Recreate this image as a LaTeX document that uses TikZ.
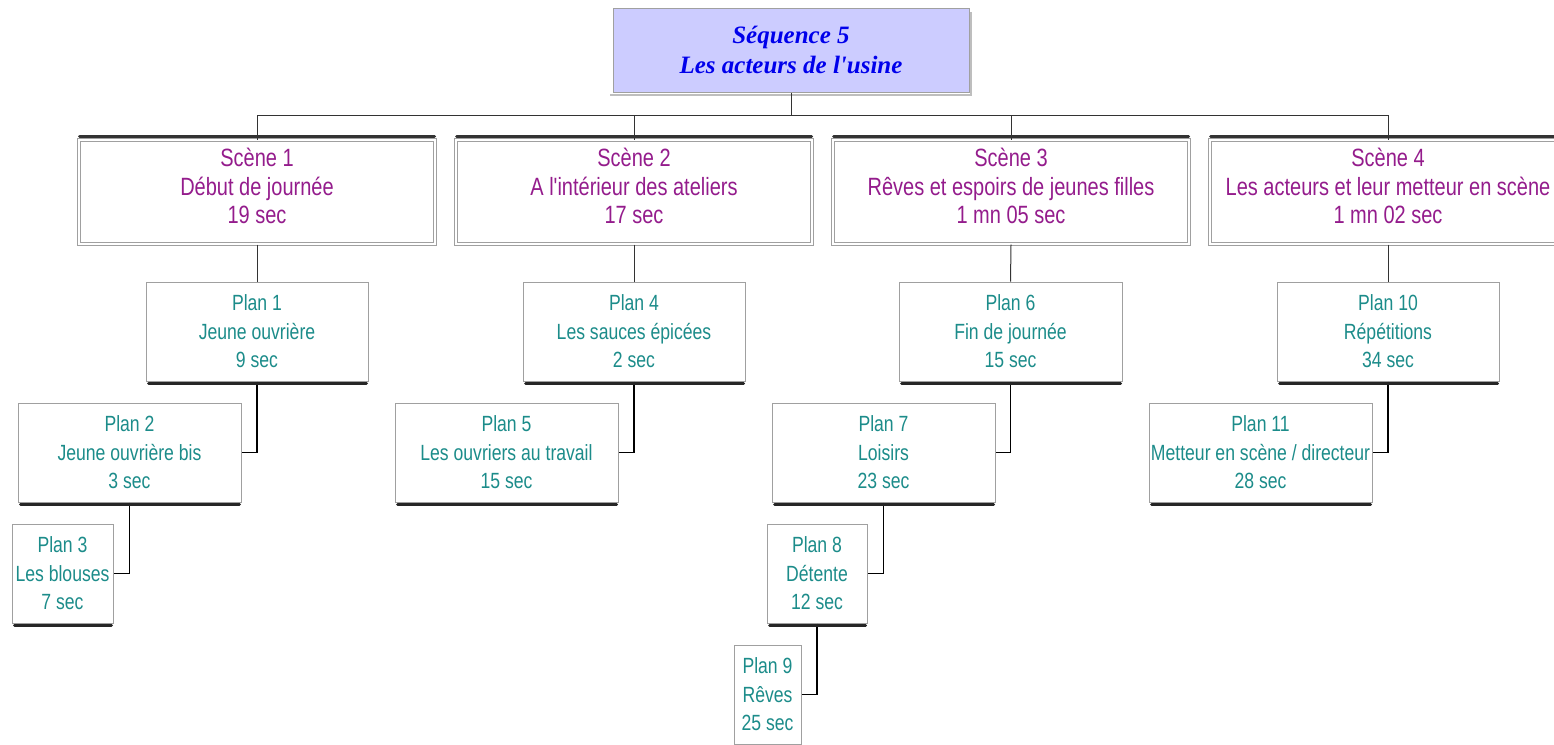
\documentclass[tikz,border=0pt]{standalone}
\usepackage{fontspec}
\newfontfamily\narrowfont{Liberation Sans}[FakeStretch=0.8]
\newfontfamily\titlefont{Liberation Serif}
\definecolor{scenecol}{RGB}{148,28,140}
\definecolor{plancol}{RGB}{28,140,138}
\definecolor{titlecol}{RGB}{0,0,235}
\definecolor{titlefill}{RGB}{204,204,255}
\definecolor{boxgray}{RGB}{160,160,160}
\definecolor{shadegray}{RGB}{190,190,190}
\begin{document}
\begin{tikzpicture}[x=1pt,y=-1pt,
  topbox/.style={draw=boxgray,line width=1pt,fill=titlefill,minimum width=356pt,minimum height=84pt,inner sep=0pt,
    align=center,text=titlecol,font=\titlefont\bfseries\itshape\fontsize{25}{30}\selectfont},
  scenebox/.style={draw=boxgray,line width=1pt,double=white,double distance=2.5pt,minimum width=356pt,minimum height=104pt,inner sep=0pt},
  scenetxt/.style={align=center,text=scenecol,inner sep=0pt,font=\narrowfont\fontsize{25}{28.5}\selectfont},
  planbox/.style={draw=boxgray,line width=1pt,fill=white,minimum height=99pt,inner sep=0pt,align=center,text=plancol,
    font=\narrowfont\fontsize{22}{28.5}\selectfont},
  busline/.style={draw=black!80,line width=1pt},
  planline/.style={draw=black,line width=1.4pt},
  scenebar/.style={draw=black!80,line width=3pt,line cap=round},
  planshadow/.style={draw=black!85,line width=3pt,line cap=round},
  topshadow/.style={draw=shadegray,line width=1.5pt}
]
\useasboundingbox (0,0) rectangle (1554,744);
\clip (0,0) rectangle (1554,744);

% title
\node[topbox] (top) at (791,50) {Séquence 5\\Les acteurs de l'usine};
\coordinate (shA) at (610,95);
\coordinate (shB) at (971,95);
\coordinate (shC) at (971,12);
\draw[topshadow] (shA) -- (shB) -- (shC);

% scenes
\node[scenebox] (s1) at (257,192) {};
\node[scenebox] (s2) at (634,192) {};
\node[scenebox] (s3) at (1011,192) {};
\node[scenebox] (s4) at (1388,192) {};
\node[scenetxt] (t1) at (257,186) {Scène 1\\Début de journée\\19 sec};
\node[scenetxt] (t2) at (634,186) {Scène 2\\A l'intérieur des ateliers\\17 sec};
\node[scenetxt] (t3) at (1011,186) {Scène 3\\Rêves et espoirs de jeunes filles\\1 mn 05 sec};
\node[scenetxt] (t4) at (1388,186) {Scène 4\\Les acteurs et leur metteur en scène\\1 mn 02 sec};

% plans
\node[planbox,minimum width=222pt] (p1) at (257,331.5) {Plan 1\\Jeune ouvrière\\9 sec};
\node[planbox,minimum width=223pt] (p2) at (129.5,452.5) {Plan 2\\Jeune ouvrière bis\\3 sec};
\node[planbox,minimum width=101pt] (p3) at (62.5,573.5) {Plan 3\\Les blouses\\7 sec};
\node[planbox,minimum width=222pt] (p4) at (634,331.5) {Plan 4\\Les sauces épicées\\2 sec};
\node[planbox,minimum width=223pt] (p5) at (506.5,452.5) {Plan 5\\Les ouvriers au travail\\15 sec};
\node[planbox,minimum width=223pt] (p6) at (1010.5,331.5) {Plan 6\\Fin de journée\\15 sec};
\node[planbox,minimum width=223pt] (p7) at (883.5,452.5) {Plan 7\\Loisirs\\23 sec};
\node[planbox,minimum width=100pt] (p8) at (817,573.5) {Plan 8\\Détente\\12 sec};
\node[planbox,minimum width=67pt] (p9) at (767.5,694.5) {Plan 9\\Rêves\\25 sec};
\node[planbox,minimum width=222pt] (p10) at (1388,331.5) {Plan 10\\Répétitions\\34 sec};
\node[planbox,minimum width=223pt] (p11) at (1260.5,452.5) {Plan 11\\Metteur en scène / directeur\\28 sec};

% connectors: title to scenes
\coordinate (bus) at (791,115);
\draw[busline] (top.south) -- (bus);
\foreach \s in {s1,s2,s3,s4} \draw[busline] (bus) -| (\s.north);
% scene bars
\foreach \s in {s1,s2,s3,s4}
  \draw[scenebar] ([xshift=1pt,yshift=3.5pt]\s.north west) -- ([xshift=-1pt,yshift=3.5pt]\s.north east);
% scenes to plans
\draw[busline] (s1.south) -- (p1.north);
\draw[busline] (s2.south) -- (p4.north);
\draw[busline] (s3.south) -- (p6.north);
\draw[busline] (s4.south) -- (p10.north);
% plan to plan
\draw[planline] (p1.south) |- (p2.east);
\draw[planline] (p2.south) |- (p3.east);
\draw[planline] (p4.south) |- (p5.east);
\draw[planline] (p6.south) |- (p7.east);
\draw[planline] (p7.south) |- (p8.east);
\draw[planline] (p8.south) |- (p9.east);
\draw[planline] (p10.south) |- (p11.east);
% plan shadows
\foreach \p in {p1,p2,p3,p4,p5,p6,p7,p8,p9,p10,p11}
  \draw[planshadow] ([xshift=3pt,yshift=-2.2pt]\p.south west) -- ([xshift=-2pt,yshift=-2.2pt]\p.south east);
\end{tikzpicture}
\end{document}
